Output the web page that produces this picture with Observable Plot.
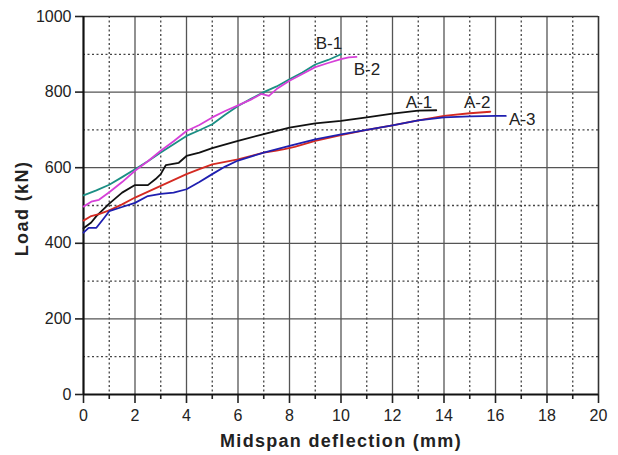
<!DOCTYPE html>
<html>
<head>
<meta charset="utf-8">
<script src="https://cdn.jsdelivr.net/npm/d3@7"></script>
<script src="https://cdn.jsdelivr.net/npm/@observablehq/plot@0.6"></script>
<style>
  html, body { margin: 0; padding: 0; background: #fff; }
  #chart { width: 618px; height: 455px; }
</style>
</head>
<body>
<div id="chart"></div>
<script>
// ---- data ----
const xMajorTicks = [0, 2, 4, 6, 8, 10, 12, 14, 16, 18, 20];
const xMinorTicks = [1, 3, 5, 7, 9, 11, 13, 15, 17, 19];
const yMajorTicks = [0, 200, 400, 600, 800, 1000];
const yMinorTicks = [100, 300, 500, 700, 900];

const seriesNames = ["B-1", "B-2", "A-1", "A-2", "A-3"];
const seriesColors = ["#1b8f84", "#d640d8", "#111111", "#d42a22", "#1f1fb0"];

const b1X = [0, 0.5, 1, 1.5, 2, 2.5, 3, 3.5, 4, 4.5, 5, 5.5, 6, 6.5, 7, 7.5, 8, 8.5, 9, 9.5, 10];
const b1Y = [527, 540, 555, 575, 596, 617, 640, 662, 684, 699, 715, 740, 763, 782, 800, 815, 834, 852, 873, 885, 900];

const b2X = [0, 0.3, 0.6, 1, 1.5, 2, 2.5, 3, 3.5, 4, 4.5, 5, 5.5, 6, 6.5, 6.9, 7.2, 7.5, 8, 8.5, 9, 9.5, 10, 10.3, 10.6];
const b2Y = [497, 510, 515, 535, 562, 592, 617, 645, 670, 697, 713, 733, 750, 765, 780, 795, 790, 808, 830, 848, 866, 877, 887, 892, 893];

const a1X = [0, 0.3, 0.5, 1, 1.5, 2, 2.5, 2.8, 3, 3.2, 3.7, 4, 4.5, 5, 6, 7, 8, 9, 10, 11, 12, 13, 13.7];
const a1Y = [440, 455, 472, 505, 534, 554, 554, 570, 583, 607, 613, 631, 640, 652, 671, 689, 706, 717, 724, 733, 743, 751, 752];

const a2X = [0, 0.3, 0.6, 1, 1.5, 2, 3, 4, 4.5, 5, 6, 7, 7.5, 7.8, 8.2, 9, 10, 11, 12, 13, 14, 15, 15.8];
const a2Y = [460, 472, 477, 487, 503, 521, 552, 583, 596, 609, 622, 640, 645, 649, 655, 671, 686, 700, 712, 725, 737, 744, 748];

const a3X = [0, 0.2, 0.5, 0.8, 1, 1.5, 2, 2.5, 3, 3.5, 4, 4.5, 5, 5.5, 6, 7, 8, 9, 10, 11, 12, 13, 14, 15, 16, 16.4];
const a3Y = [428, 441, 441, 467, 485, 496, 507, 525, 531, 534, 543, 562, 583, 603, 619, 640, 658, 675, 688, 700, 712, 725, 733, 736, 737, 737];

const labelX = [9.53, 11.01, 13.03, 15.29, 17.04];
const labelY = [929, 860, 773, 773, 728];

// ---- build tables ----
const seriesX = [b1X, b2X, a1X, a2X, a3X];
const seriesY = [b1Y, b2Y, a1Y, a2Y, a3Y];
const rows = [];
seriesNames.forEach((name, i) => {
  seriesX[i].forEach((x, j) => rows.push({series: name, x, y: seriesY[i][j]}));
});
const labels = seriesNames.map((name, i) => ({name, x: labelX[i], y: labelY[i]}));

const font = "'Liberation Sans', Arial, sans-serif";

const chart = Plot.plot({
  width: 618,
  height: 455,
  marginLeft: 83,
  marginRight: 20,
  marginTop: 16,
  marginBottom: 61,
  style: {fontFamily: font, fontSize: "16px", color: "#222", background: "#fff"},
  x: {domain: [0, 20]},
  y: {domain: [0, 1000]},
  color: {domain: seriesNames, range: seriesColors},
  marks: [
    // minor dotted grid
    Plot.ruleX(xMinorTicks, {stroke: "#444", strokeWidth: 1.3, strokeDasharray: "2,2.5"}),
    Plot.ruleY(yMinorTicks, {stroke: "#444", strokeWidth: 1.3, strokeDasharray: "2,2.5"}),
    // major solid grid
    Plot.ruleX(xMajorTicks.filter(d => d > 0 && d < 20), {stroke: "#555", strokeWidth: 1.3}),
    Plot.ruleY(yMajorTicks.filter(d => d > 0 && d < 1000), {stroke: "#555", strokeWidth: 1.3}),
    // top & right frame
    Plot.ruleY([1000], {stroke: "#333", strokeWidth: 1.6}),
    Plot.ruleX([20], {stroke: "#333", strokeWidth: 1.6}),
    // axes
    Plot.axisX({ticks: xMajorTicks, tickSize: 9, tickPadding: 6, tickFormat: d => String(d), label: null, fontSize: 16, strokeWidth: 1.6, stroke: "#222"}),
    Plot.axisX({ticks: xMinorTicks, tickSize: 5, text: null, label: null, strokeWidth: 1.6, stroke: "#222"}),
    Plot.axisY({ticks: yMajorTicks, tickSize: 8, tickPadding: 4, tickFormat: d => String(d), label: null, fontSize: 16, strokeWidth: 1.6, stroke: "#222"}),
    Plot.ruleX([0], {stroke: "#111", strokeWidth: 2.2}),
    Plot.ruleY([0], {stroke: "#111", strokeWidth: 2.2}),
    // curves
    Plot.line(rows, {x: "x", y: "y", z: "series", stroke: "series", strokeWidth: 1.8, curve: "linear"}),
    // curve labels
    Plot.text(labels, {x: "x", y: "y", text: "name", fontSize: 17, fill: "#222", textAnchor: "middle", lineAnchor: "middle"}),
    // axis titles
    Plot.text(["Midspan deflection (mm)"], {frameAnchor: "bottom", dy: 47, text: d => d, fontSize: 18, fontWeight: "bold", fill: "#222", lineAnchor: "middle", textAnchor: "middle"}),
    Plot.text(["Load (kN)"], {frameAnchor: "left", dx: -61, dy: 3, rotate: -90, text: d => d, fontSize: 18, fontWeight: "bold", fill: "#222", lineAnchor: "middle", textAnchor: "middle"})
  ]
});

// letter spacing on the axis titles
d3.select(chart).selectAll("text").each(function() {
  const t = this.textContent;
  if (t === "Midspan deflection (mm)") this.setAttribute("letter-spacing", "1.3");
  if (t === "Load (kN)") this.setAttribute("letter-spacing", "1.4");
});

document.getElementById("chart").appendChild(chart);
</script>
</body>
</html>
